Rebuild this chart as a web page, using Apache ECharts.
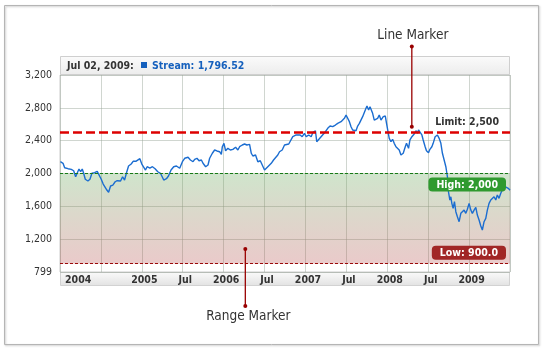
<!DOCTYPE html>
<html><head><meta charset="utf-8">
<script src="https://cdn.jsdelivr.net/npm/echarts@6/dist/echarts.min.js"></script>
<style>html,body{margin:0;padding:0;background:#fff}#c{width:547px;height:355px}</style>
</head><body><div id="c"></div>
<script>
// ---------- data ----------
const seriesName = 'Stream';
const lastDateLabel = 'Jul 02, 2009';
const years = [
2004.005,2004.037,2004.057,2004.098,2004.138,2004.167,2004.191,2004.211,2004.232,2004.252,
2004.272,2004.289,2004.309,2004.341,2004.366,2004.390,2004.423,2004.455,2004.479,2004.504,
2004.528,2004.552,2004.573,2004.594,2004.618,2004.646,2004.674,2004.699,2004.720,2004.740,
2004.765,2004.789,2004.813,2004.838,2004.870,2004.894,2004.927,2004.951,2004.976,2005.000,
2005.024,2005.045,2005.065,2005.098,2005.130,2005.162,2005.195,2005.228,2005.252,2005.268,
2005.301,2005.326,2005.357,2005.390,
2005.423,2005.443,2005.463,2005.496,2005.524,2005.565,2005.594,2005.626,2005.646,2005.674,
2005.699,2005.728,2005.748,2005.780,2005.809,2005.829,2005.862,2005.890,2005.918,2005.951,
2005.972,2005.984,2006.004,2006.024,2006.052,2006.082,2006.113,2006.146,2006.174,2006.195,
2006.228,2006.256,2006.284,2006.317,2006.338,2006.357,2006.390,2006.418,2006.448,2006.472,
2006.500,2006.521,2006.540,2006.561,2006.582,2006.610,2006.634,2006.662,2006.683,2006.716,
2006.744,2006.765,2006.796,
2006.813,2006.845,2006.866,2006.887,2006.906,2006.935,2006.960,2006.988,2007.009,2007.040,
2007.070,2007.089,2007.122,2007.138,2007.162,2007.191,2007.211,2007.244,2007.272,2007.301,
2007.333,2007.366,2007.394,2007.415,2007.435,2007.455,2007.476,2007.496,2007.516,2007.537,
2007.557,2007.577,2007.598,2007.618,2007.638,2007.659,2007.679,2007.699,2007.720,2007.740,
2007.752,2007.772,2007.789,2007.805,2007.821,2007.841,2007.862,2007.882,2007.902,2007.923,
2007.951,2007.976,2007.991,2008.009,2008.024,2008.045,2008.065,2008.085,2008.106,2008.126,
2008.146,
2008.167,2008.195,2008.220,2008.235,2008.260,2008.277,2008.301,2008.329,2008.350,2008.370,
2008.382,2008.399,2008.423,2008.439,2008.463,2008.479,2008.504,2008.521,2008.545,2008.561,
2008.585,2008.613,2008.634,2008.655,2008.674,2008.695,2008.716,2008.735,2008.748,2008.765,
2008.777,2008.789,2008.805,2008.821,2008.838,2008.857,2008.878,2008.899,2008.918,2008.939,
2008.960,2008.979,2009.000,2009.021,2009.040,2009.061,2009.082,2009.101,2009.122,2009.143,
2009.162,2009.183,2009.204,2009.223,2009.244,2009.265,2009.284,2009.305,2009.326,2009.345,
2009.366,2009.387,2009.406,2009.427,2009.448,2009.479,2009.500
];
const values = [
2143,2124,2070,2058,2050,2033,1960,1981,2054,2021,
2054,2002,1929,1908,1929,2002,2009,2026,2002,1929,
1871,1880,1798,1770,1847,1859,1899,1912,1932,1908,
1960,1920,2009,2091,2115,2148,2148,2172,2180,2115,
2091,2042,2082,2066,2082,2058,2021,2002,1981,1920,
1936,1969,2042,2082,
2091,2082,2063,2143,2185,2197,2164,2143,2172,2185,
2155,2164,2124,2082,2103,2185,2246,2286,2274,2265,
2233,2326,2367,2277,2306,2286,2294,2319,2286,2326,
2347,2359,2347,2355,2246,2213,2225,2143,2155,2143,
2042,2033,2082,2063,2124,2164,2164,2225,2265,2286,
2347,2367,2359,
2359,2448,2428,2469,2448,2469,2448,2489,2448,2469,
2448,2497,2521,2387,2408,2448,2428,2509,2550,2578,
2570,2590,2611,2603,2631,2611,2672,2712,2692,2631,
2570,2530,2550,2521,2578,2611,2631,2692,2712,2794,
2822,2773,2814,2822,2733,2651,2631,2672,2712,2651,
2692,2700,2611,2509,2428,2387,2416,2367,2326,2319,
2286,
2225,2246,2326,2367,2306,2408,2448,2481,2521,2489,
2530,2509,2469,2408,2326,2277,2253,2294,2326,2367,
2448,2469,2428,2367,2246,2164,2082,1960,1777,1676,
1716,1636,1575,1656,1534,1473,1412,1514,1534,1554,
1514,1563,1636,1554,1514,1554,1587,1493,1432,1359,
1311,1412,1453,1554,1636,1676,1656,1716,1676,1737,
1697,1758,1798,1847,1838,1819,1796.52
];
const yTicks = [799, 1200, 1600, 2000, 2400, 2800, 3200];
const xLabelValues = [2004, 2005, 2005.5, 2006, 2006.5, 2007, 2007.5, 2008, 2008.5, 2009];
const xLabelTexts  = ['2004','2005','Jul','2006','Jul','2007','Jul','2008','Jul','2009'];
const limitValue = 2500;
const highValue = 2000;
const lowValue = 900;
const lineMarkerAnchor = [2008.30, 2570];
const rangeMarkerAnchor = [2006.265, 1079];

// ---------- helpers ----------
const FONT = "'DejaVu Sans Condensed', 'DejaVu Sans', sans-serif";
function fmt(v){ const p = String(v).split('.'); p[0] = p[0].replace(/\B(?=(\d{3})+(?!\d))/g, ','); return p.join('.'); }
const points = years.map((y, i) => [y, values[i]]);
const lastVal = values[values.length - 1];

const chart = echarts.init(document.getElementById('c'), null, {renderer: 'canvas'});
chart.setOption({
  animation: false,
  backgroundColor: '#fff',
  grid: {left: 60, right: 37, top: 75, bottom: 83, show: true, borderColor: '#cccccc', borderWidth: 1, backgroundColor: 'transparent'},
  xAxis: {
    type: 'value', min: 2004, max: 2009.5, interval: 0.5,
    axisLine: {show: false}, axisTick: {show: false},
    splitLine: {show: true, lineStyle: {color: 'rgba(150,165,150,0.45)', width: 1}},
    axisLabel: {
      customValues: xLabelValues,
      formatter: v => { const i = xLabelValues.indexOf(v); return i >= 0 ? xLabelTexts[i] : ''; },
      color: '#333', fontWeight: 'bold', fontSize: 10.5, fontFamily: FONT, margin: 3,
      alignMinLabel: 'left', padding: [0, 0, 0, 5]
    }
  },
  yAxis: {
    type: 'value', min: 799, max: 3200,
    axisLine: {show: false},
    axisTick: {show: false, customValues: yTicks},
    splitLine: {show: true, lineStyle: {color: 'rgba(150,165,150,0.45)', width: 1}},
    axisLabel: {customValues: yTicks, formatter: v => fmt(v), color: '#333', fontSize: 10.5, fontFamily: FONT, margin: 8}
  },
  series: [{
    type: 'line', name: seriesName, data: points, showSymbol: false, symbol: 'none',
    lineStyle: {color: '#1b6dd0', width: 1.4}, z: 3, silent: true,
    markArea: {
      silent: true,
      itemStyle: {color: {type: 'linear', x: 0, y: 0, x2: 0, y2: 1, colorStops: [
        {offset: 0, color: 'rgba(110,175,100,0.33)'}, {offset: 1, color: 'rgba(185,80,80,0.30)'}]}},
      data: [[{yAxis: lowValue}, {yAxis: highValue}]]
    },
    markLine: {
      silent: true, symbol: ['none', 'none'],
      data: [
        {yAxis: limitValue, lineStyle: {color: '#dd0000', width: 2.5, type: [9, 4]},
         label: {show: true, position: 'insideEndTop', formatter: 'Limit: ' + fmt(limitValue), color: '#333', fontWeight: 'bold', fontSize: 10.5, fontFamily: FONT, distance: [11, 5]}},
        {yAxis: highValue, lineStyle: {color: '#167a16', width: 1, type: [3, 2]},
         label: {show: true, position: 'insideEndBottom', formatter: 'High: ' + fmt(highValue), color: '#fff', fontWeight: 'bold', fontSize: 10.5, fontFamily: FONT,
                 backgroundColor: '#2f9a2f', borderRadius: 4, padding: [2, 8, 1, 8], distance: [4, 4]}},
        {yAxis: lowValue, lineStyle: {color: '#9a0a0a', width: 1, type: [3, 2]},
         label: {show: true, position: 'insideEndTop', formatter: 'Low: ' + lowValue.toFixed(1), color: '#fff', fontWeight: 'bold', fontSize: 10.5, fontFamily: FONT,
                 backgroundColor: '#a12626', borderRadius: 4, padding: [2, 8, 1, 8], distance: [4, 4]}}
      ]
    }
  }]
});

const lm = chart.convertToPixel({gridIndex: 0}, lineMarkerAnchor);
const rm = chart.convertToPixel({gridIndex: 0}, rangeMarkerAnchor);
const mk = '#990000';
chart.setOption({
  graphic: [
    {type: 'rect', z: -5, silent: true, shape: {x: 4.5, y: 5.5, width: 534, height: 339},
     style: {fill: null, stroke: '#b5b5b5', lineWidth: 1, shadowBlur: 2, shadowColor: 'rgba(0,0,0,0.25)', shadowOffsetX: 1, shadowOffsetY: 1}},
    {type: 'rect', z: 1, silent: true, shape: {x: 60.5, y: 56.5, width: 449, height: 18},
     style: {fill: {type: 'linear', x: 0, y: 0, x2: 0, y2: 1, colorStops: [{offset: 0, color: '#fbfbfb'}, {offset: 1, color: '#ececec'}]}, stroke: '#cfcfcf', lineWidth: 1}},
    {type: 'text', z: 2, silent: true, style: {x: 67, y: 66, text: lastDateLabel + ':', fill: '#333', font: 'bold 10.5px ' + FONT, verticalAlign: 'middle'}},
    {type: 'rect', z: 2, silent: true, shape: {x: 141, y: 62, width: 6, height: 6}, style: {fill: '#1560bd'}},
    {type: 'text', z: 2, silent: true, style: {x: 152, y: 66, text: seriesName + ': ' + fmt(lastVal.toFixed(2)), fill: '#1560bd', font: 'bold 10.5px ' + FONT, verticalAlign: 'middle'}},
    {type: 'rect', z: -1, silent: true, shape: {x: 60.5, y: 272.5, width: 449, height: 13},
     style: {fill: {type: 'linear', x: 0, y: 0, x2: 0, y2: 1, colorStops: [{offset: 0, color: '#fafafa'}, {offset: 1, color: '#e2e2e2'}]}, stroke: '#d2d2d2', lineWidth: 1}},
    // Line marker callout
    {type: 'line', z: 20, silent: true, shape: {x1: lm[0], y1: 46.5, x2: lm[0], y2: lm[1]}, style: {stroke: mk, lineWidth: 1.3}},
    {type: 'circle', z: 20, silent: true, shape: {cx: lm[0], cy: 46.5, r: 2}, style: {fill: mk}},
    {type: 'circle', z: 20, silent: true, shape: {cx: lm[0], cy: lm[1], r: 2}, style: {fill: mk}},
    {type: 'text', z: 20, silent: true, style: {x: lm[0] + 1, y: 35, text: 'Line Marker', fill: '#333', font: '13.5px ' + FONT, align: 'center', verticalAlign: 'middle'}},
    // Range marker callout
    {type: 'line', z: 20, silent: true, shape: {x1: rm[0], y1: rm[1], x2: rm[0], y2: 306}, style: {stroke: mk, lineWidth: 1.3}},
    {type: 'circle', z: 20, silent: true, shape: {cx: rm[0], cy: rm[1], r: 2}, style: {fill: mk}},
    {type: 'circle', z: 20, silent: true, shape: {cx: rm[0], cy: 306, r: 2}, style: {fill: mk}},
    {type: 'text', z: 20, silent: true, style: {x: rm[0] + 3, y: 316, text: 'Range Marker', fill: '#333', font: '13.5px ' + FONT, align: 'center', verticalAlign: 'middle'}}
  ]
});
</script></body></html>
